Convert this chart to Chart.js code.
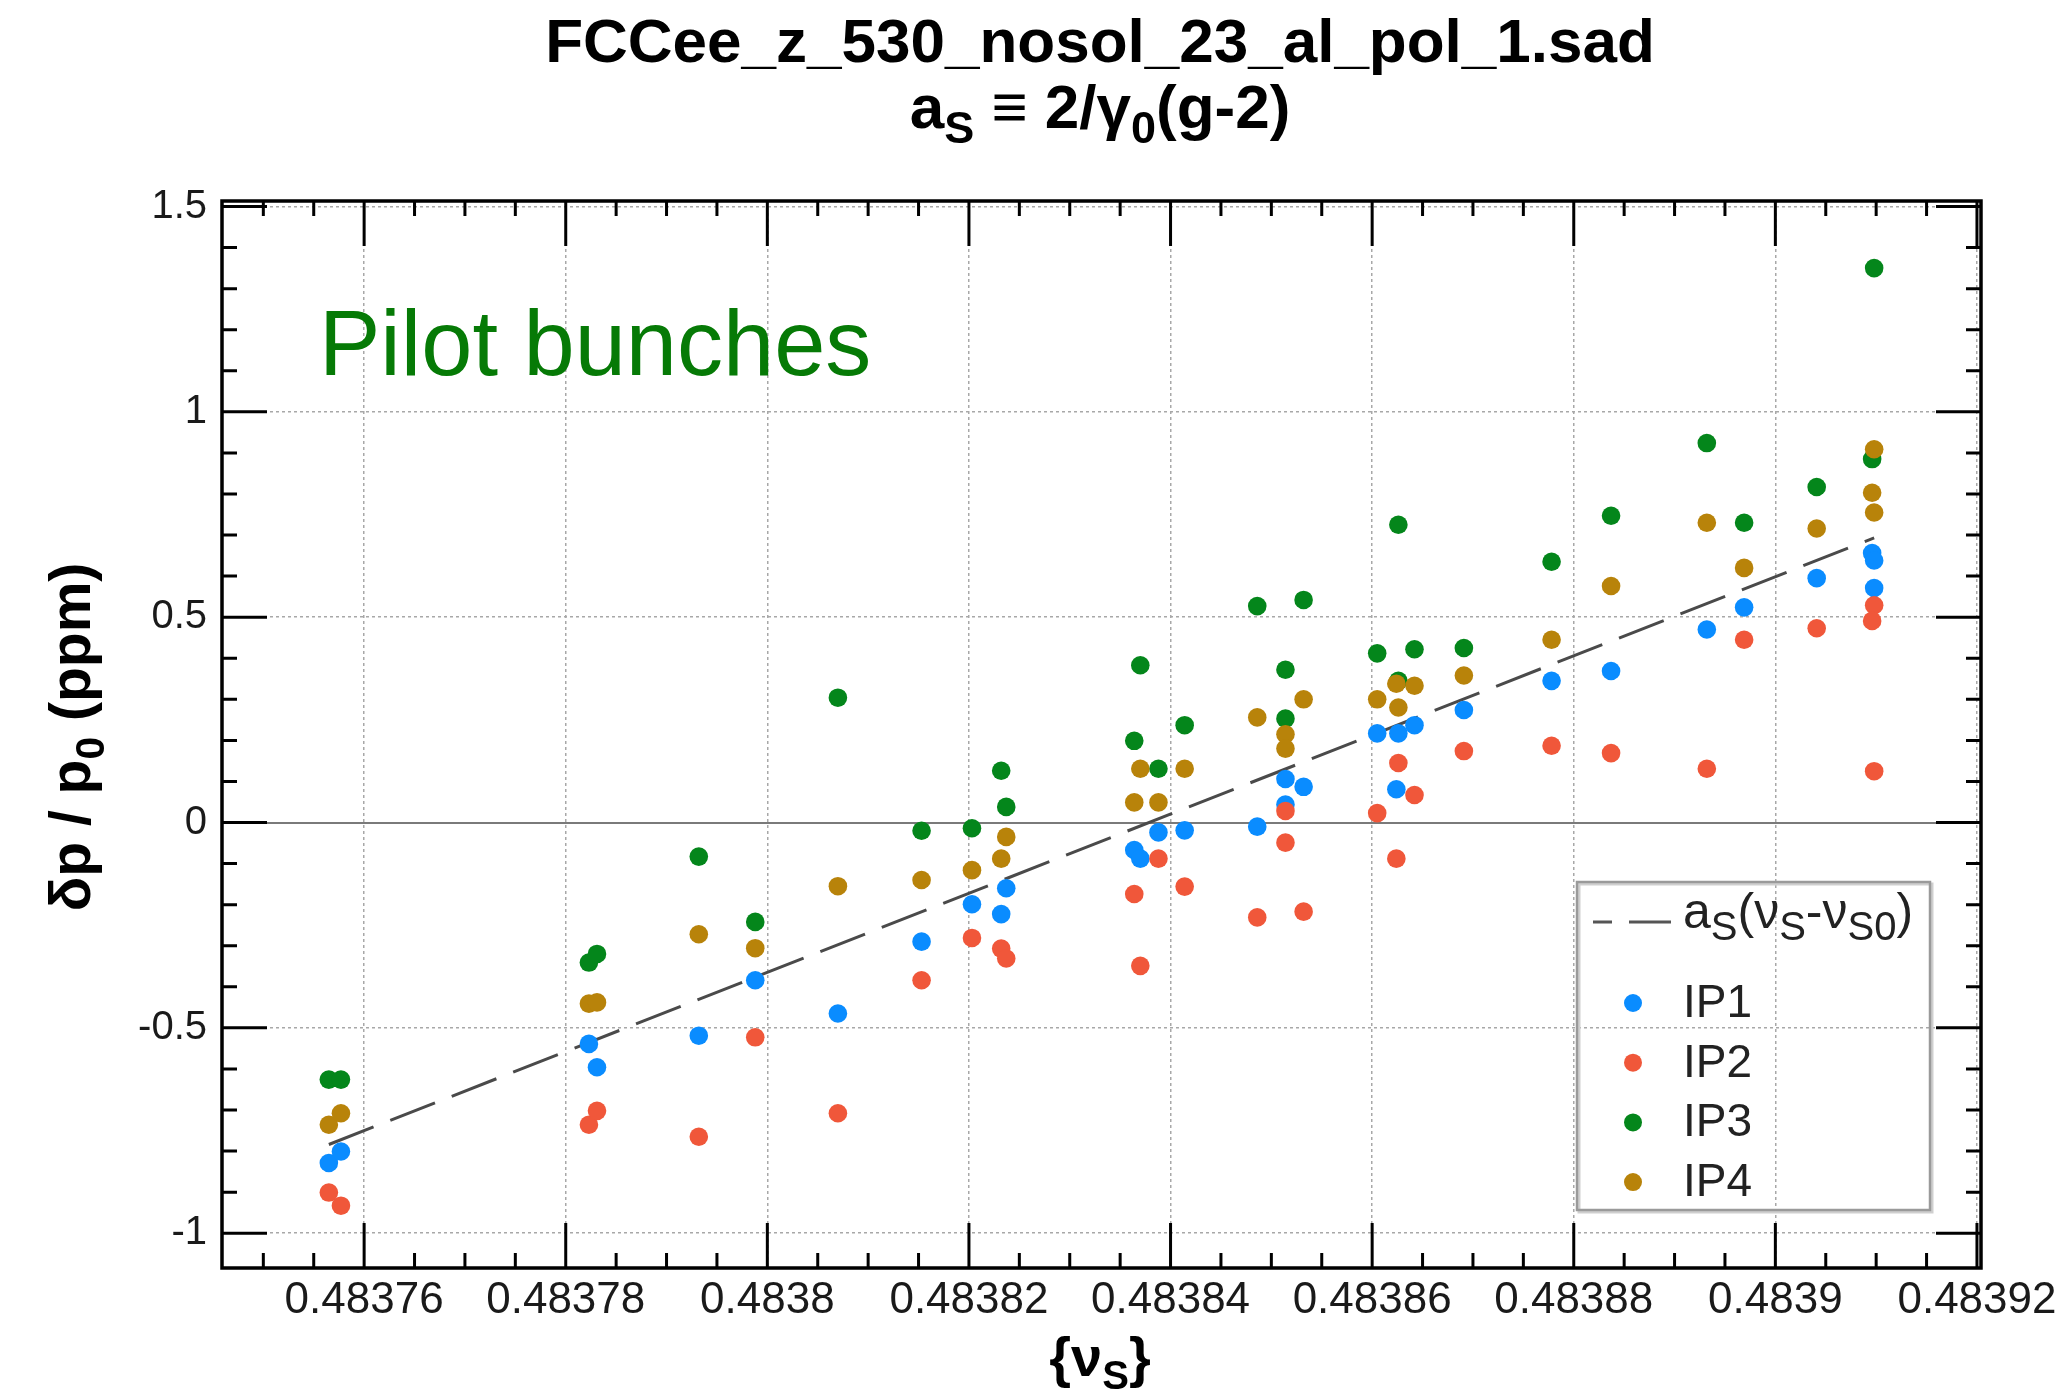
<!DOCTYPE html>
<html>
<head>
<meta charset="utf-8">
<script src="https://cdn.jsdelivr.net/npm/chart.js@4.4.1/dist/chart.umd.min.js"></script>
<style>
  body { margin: 0; background: #fff; }
  canvas { display: block; }
</style>
</head>
<body>
<canvas id="chart" width="2065" height="1399"></canvas>
<script>
// --- data: spin tune {nu_S} vs dp/p0 (ppm) ---
const ip1Nu = [0.4837565, 0.4837577, 0.4837823, 0.4837831, 0.4837932, 0.4837988, 0.4838070, 0.4838153, 0.4838203,
  0.4838237, 0.4838232, 0.4838364, 0.4838370, 0.4838388, 0.4838414, 0.4838486, 0.4838514, 0.4838514, 0.4838532,
  0.4838605, 0.4838626, 0.4838624, 0.4838642, 0.4838691, 0.4838778, 0.4838837, 0.4838932, 0.4838969, 0.4839041,
  0.4839096, 0.4839098, 0.4839098];
const ip1Dp = [-0.829, -0.801, -0.539, -0.596, -0.519, -0.384, -0.465, -0.290, -0.199,
  -0.160, -0.223, -0.067, -0.088, -0.024, -0.019, -0.010, 0.106, 0.044, 0.087,
  0.217, 0.217, 0.081, 0.237, 0.274, 0.345, 0.369, 0.470, 0.524, 0.595,
  0.656, 0.638, 0.571];

const ip2Nu = [0.4837565, 0.4837577, 0.4837823, 0.4837831, 0.4837932, 0.4837988, 0.4838070, 0.4838153, 0.4838203,
  0.4838232, 0.4838237, 0.4838364, 0.4838370, 0.4838388, 0.4838414, 0.4838486, 0.4838514, 0.4838514, 0.4838532,
  0.4838605, 0.4838626, 0.4838624, 0.4838642, 0.4838691, 0.4838778, 0.4838837, 0.4838932, 0.4838969, 0.4839041,
  0.4839098, 0.4839096, 0.4839098];
const ip2Dp = [-0.901, -0.933, -0.736, -0.702, -0.765, -0.523, -0.708, -0.384, -0.281,
  -0.307, -0.331, -0.174, -0.349, -0.088, -0.156, -0.231, 0.028, -0.049, -0.217,
  0.023, 0.145, -0.088, 0.067, 0.174, 0.187, 0.169, 0.131, 0.445, 0.473,
  0.529, 0.491, 0.125];

const ip3Nu = [0.4837565, 0.4837577, 0.4837823, 0.4837831, 0.4837932, 0.4837988, 0.4838070, 0.4838153, 0.4838203,
  0.4838232, 0.4838237, 0.4838364, 0.4838370, 0.4838388, 0.4838414, 0.4838486, 0.4838514, 0.4838514, 0.4838532,
  0.4838605, 0.4838626, 0.4838626, 0.4838642, 0.4838691, 0.4838778, 0.4838837, 0.4838932, 0.4838969, 0.4839041,
  0.4839098, 0.4839096];
const ip3Dp = [-0.626, -0.626, -0.341, -0.320, -0.083, -0.242, 0.304, -0.020, -0.014,
  0.126, 0.038, 0.199, 0.383, 0.131, 0.237, 0.527, 0.372, 0.253, 0.542,
  0.412, 0.725, 0.345, 0.422, 0.425, 0.635, 0.747, 0.924, 0.730, 0.817,
  1.350, 0.885];

const ip4Nu = [0.4837565, 0.4837577, 0.4837823, 0.4837831, 0.4837932, 0.4837988, 0.4838070, 0.4838153, 0.4838203,
  0.4838237, 0.4838232, 0.4838370, 0.4838364, 0.4838388, 0.4838414, 0.4838486, 0.4838514, 0.4838514, 0.4838532,
  0.4838605, 0.4838624, 0.4838626, 0.4838642, 0.4838691, 0.4838778, 0.4838837, 0.4838932, 0.4838969, 0.4839041,
  0.4839098, 0.4839096, 0.4839098];
const ip4Dp = [-0.736, -0.708, -0.441, -0.438, -0.272, -0.306, -0.155, -0.140, -0.116,
  -0.035, -0.088, 0.131, 0.049, 0.049, 0.131, 0.256, 0.215, 0.180, 0.300,
  0.300, 0.338, 0.280, 0.333, 0.358, 0.445, 0.576, 0.730, 0.620, 0.716,
  0.909, 0.803, 0.755];

// fitted line a_S(nu_S - nu_S0), end points
const fitNu = [0.4837565, 0.4839098];
const fitDp = [-0.784, 0.693];

const xTickValues = [0.48376, 0.48378, 0.4838, 0.48382, 0.48384, 0.48386, 0.48388, 0.4839, 0.48392];
const yTickValues = [-1, -0.5, 0, 0.5, 1, 1.5];

const seriesNames = ["IP1", "IP2", "IP3", "IP4"];
const seriesColors = ["#0a8cff", "#f0573a", "#04861b", "#b8830a"];

const FONT = '"Liberation Sans", Arial, Helvetica, sans-serif';

const toPoints = (xs, ys) => xs.map((x, i) => ({ x: x, y: ys[i] }));

// draws text with subscripts, parts = [[text, isSub], ...]
function drawRich(ctx, parts, x, y, size, weight, align, subRatio) {
  const r = subRatio || 0.72;
  const fonts = parts.map(p => `${weight} ${p[1] ? Math.round(size * r) : size}px ${FONT}`);
  let w = 0;
  parts.forEach((p, i) => { ctx.font = fonts[i]; w += ctx.measureText(p[0]).width; });
  let cx = align === "center" ? x - w / 2 : x;
  ctx.textAlign = "left";
  ctx.textBaseline = "alphabetic";
  parts.forEach((p, i) => {
    ctx.font = fonts[i];
    ctx.fillText(p[0], cx, p[1] ? y + size * 0.24 : y);
    cx += ctx.measureText(p[0]).width;
  });
}

const decorPlugin = {
  id: "decor",
  afterDatasetsDraw(chart) {
    const ctx = chart.ctx;
    const area = chart.chartArea;
    const xs = chart.scales.x, ys = chart.scales.y;

    ctx.save();
    // frame
    ctx.strokeStyle = "#000";
    ctx.lineWidth = 3.5;
    ctx.strokeRect(area.left, area.top, area.right - area.left, area.bottom - area.top);

    // inward ticks, major + minor, on all four sides
    ctx.lineWidth = 3;
    ctx.beginPath();
    const xStep = 0.000005;
    for (let k = Math.ceil(xs.min / xStep); k * xStep <= xs.max; k++) {
      const px = xs.getPixelForValue(k * xStep);
      const len = k % 4 === 0 ? 45 : 15;
      ctx.moveTo(px, area.bottom); ctx.lineTo(px, area.bottom - len);
      ctx.moveTo(px, area.top); ctx.lineTo(px, area.top + len);
    }
    for (let k = Math.ceil(ys.min * 10); k <= Math.floor(ys.max * 10); k++) {
      const py = ys.getPixelForValue(k / 10);
      const len = k % 5 === 0 ? 45 : 15;
      ctx.moveTo(area.left, py); ctx.lineTo(area.left + len, py);
      ctx.moveTo(area.right, py); ctx.lineTo(area.right - len, py);
    }
    ctx.stroke();

    // in-plot label
    ctx.fillStyle = "#067a06";
    ctx.font = `92px ${FONT}`;
    ctx.textAlign = "left";
    ctx.textBaseline = "alphabetic";
    ctx.fillText("Pilot bunches", 319, 375);

    // legend box
    const bx = 1577, by = 882, bw = 353, bh = 328;
    ctx.strokeStyle = "#cfcfcf";
    ctx.lineWidth = 3;
    ctx.strokeRect(bx + 2, by + 2, bw, bh);
    ctx.strokeStyle = "#9a9a9a";
    ctx.lineWidth = 2.5;
    ctx.strokeRect(bx, by, bw, bh);

    ctx.strokeStyle = "#555";
    ctx.lineWidth = 3;
    ctx.beginPath();
    ctx.moveTo(1593, 922); ctx.lineTo(1612, 922);
    ctx.moveTo(1629, 922); ctx.lineTo(1671, 922);
    ctx.stroke();
    ctx.fillStyle = "#222";
    drawRich(ctx, [["a", false], ["S", true], ["(\u03bd", false], ["S", true], ["-\u03bd", false], ["S0", true], [")", false]],
      1683, 928, 50, "normal", "left", 0.8);

    seriesNames.forEach((name, i) => {
      const cy = 1003 + i * 59.7;
      ctx.fillStyle = seriesColors[i];
      ctx.beginPath();
      ctx.arc(1633, cy, 9, 0, Math.PI * 2);
      ctx.fill();
      ctx.fillStyle = "#222";
      ctx.font = `46px ${FONT}`;
      ctx.fillText(name, 1683, cy + 14);
    });

    // titles
    ctx.fillStyle = "#000";
    drawRich(ctx, [["FCCee_z_530_nosol_23_al_pol_1.sad", false]], 1100, 62, 62, "bold", "center");
    drawRich(ctx, [["a", false], ["S", true], [" \u2261 2/\u03b3", false], ["0", true], ["(g-2)", false]],
      1100, 128, 62, "bold", "center");

    // axis titles
    drawRich(ctx, [["{\u03bd", false], ["S", true], ["}", false]], 1100, 1376, 56, "bold", "center");
    ctx.save();
    ctx.translate(90, 737);
    ctx.rotate(-Math.PI / 2);
    drawRich(ctx, [["\u03b4p / p", false], ["0", true], [" (ppm)", false]], 0, 0, 57, "bold", "center");
    ctx.restore();

    ctx.restore();
  }
};

const scatterSet = (i, xs, ys, order) => ({
  label: seriesNames[i],
  data: toPoints(xs, ys),
  pointRadius: 9.3,
  pointBorderWidth: 0,
  pointBackgroundColor: seriesColors[i],
  borderColor: seriesColors[i],
  showLine: false,
  order: order
});

new Chart(document.getElementById("chart"), {
  type: "scatter",
  data: {
    datasets: [
      scatterSet(0, ip1Nu, ip1Dp, 4),
      scatterSet(1, ip2Nu, ip2Dp, 3),
      scatterSet(2, ip3Nu, ip3Dp, 2),
      scatterSet(3, ip4Nu, ip4Dp, 1),
      {
        label: "fit",
        data: toPoints(fitNu, fitDp),
        showLine: true,
        pointRadius: 0,
        borderColor: "#4a4a4a",
        borderWidth: 3,
        borderDash: [48, 18],
        order: 5
      }
    ]
  },
  options: {
    responsive: false,
    animation: false,
    layout: { padding: { top: 201, right: 84, bottom: 0, left: 0 } },
    plugins: { legend: { display: false }, tooltip: { enabled: false } },
    scales: {
      x: {
        type: "linear",
        min: 0.4837459,
        max: 0.4839204,
        afterFit: s => { s.height = 131; },
        afterBuildTicks: s => { s.ticks = xTickValues.map(v => ({ value: v })); },
        ticks: {
          padding: 6,
          color: "#1a1a1a",
          font: { family: FONT, size: 44 },
          maxRotation: 0,
          autoSkip: false,
          callback: v => String(+v.toFixed(5))
        },
        grid: { color: "#a8a8a8", lineWidth: 1.5, drawTicks: false },
        border: { display: false, dash: [3, 3] }
      },
      y: {
        type: "linear",
        min: -1.0847,
        max: 1.5134,
        afterFit: s => { s.width = 222; },
        afterBuildTicks: s => { s.ticks = yTickValues.map(v => ({ value: v })); },
        ticks: {
          padding: 15,
          color: "#1a1a1a",
          font: { family: FONT, size: 40 },
          autoSkip: false,
          callback: v => String(+v.toFixed(2))
        },
        grid: {
          color: c => (c.tick && c.tick.value === 0 ? "#7a7a7a" : "#a8a8a8"),
          lineWidth: c => (c.tick && c.tick.value === 0 ? 2 : 1.5),
          drawTicks: false
        },
        border: { display: false, dash: c => (c.tick && c.tick.value === 0 ? [] : [3, 3]) }
      }
    }
  },
  plugins: [decorPlugin]
});
</script>
</body>
</html>
